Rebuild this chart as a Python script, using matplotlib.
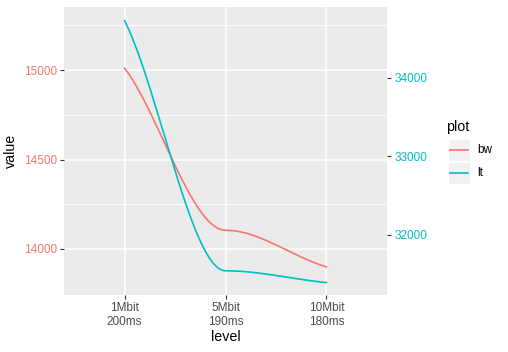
import numpy as np
import matplotlib
matplotlib.use('Agg')
from matplotlib import pyplot as plt
from matplotlib.patches import Rectangle
from matplotlib.lines import Line2D

# data
levels = ['1Mbit\n200ms', '5Mbit\n190ms', '10Mbit\n180ms']
bw = [15010, 14105, 13900]
lt = [34725, 31545, 31395]
series_names = ['bw', 'lt']
red = '#F8766D'
teal = '#00BFC4'

plt.rcParams['font.family'] = ['Liberation Sans', 'DejaVu Sans']


def smooth(y, k_end=0.8, k_mid=0.0, n=80):
    # cubic hermite through the points, flat-ish at the middle point
    y = np.array(y, dtype=float)
    x = np.arange(1, len(y) + 1, dtype=float)
    s = np.diff(y)
    m = np.zeros(len(y))
    m[0] = k_end * s[0]
    m[-1] = k_end * s[-1]
    m[1:-1] = k_mid * (s[:-1] + s[1:]) / 2
    xs, ys = [], []
    for i in range(len(y) - 1):
        t = np.linspace(0, 1, n)
        h00 = 2*t**3 - 3*t**2 + 1
        h10 = t**3 - 2*t**2 + t
        h01 = -2*t**3 + 3*t**2
        h11 = t**3 - t**2
        xs.append(x[i] + t)
        ys.append(h00*y[i] + h10*m[i] + h01*y[i+1] + h11*m[i+1])
    return np.concatenate(xs), np.concatenate(ys)


fig = plt.figure(figsize=(5.08, 3.52), dpi=100)
ax = fig.add_axes([64/508, 1 - 295/352, (387-64)/508, (295-7)/352])
ax2 = ax.twinx()

bg = '#EBEBEB'
ax.set_facecolor(bg)
for a in (ax, ax2):
    for sp in a.spines.values():
        sp.set_visible(False)

ax.set_xlim(0.4, 3.6)
ax.set_ylim(13743, 15352)
ax2.set_ylim(31237, 34899)

ax.set_xticks([1, 2, 3])
ax.set_xticklabels(levels)
ax.set_yticks([14000, 14500, 15000])
ax.set_yticks([14250, 14750, 15250], minor=True)
ax2.set_yticks([32000, 33000, 34000])

ax.grid(True, which='major', color='white', lw=1.1)
ax.grid(True, which='minor', axis='y', color='white', lw=0.55)
ax.set_axisbelow(True)

tick_kw = dict(length=2.9, width=0.8, color='#333333', labelsize=8.5, pad=2.2)
ax.tick_params(axis='x', labelcolor='#4D4D4D', **tick_kw)
ax.tick_params(axis='y', labelcolor=red, **tick_kw)
ax.tick_params(axis='y', which='minor', length=0)
ax2.tick_params(axis='y', labelcolor=teal, **tick_kw)

xs, ys = smooth(bw)
ax.plot(xs, ys, color=red, lw=1.2)
xs, ys = smooth(lt)
ax2.plot(xs, ys, color=teal, lw=1.2)

ax.set_xlabel('level', fontsize=10.3, labelpad=1.5)
ax.set_ylabel('value', fontsize=10.3, labelpad=4)

# legend drawn by hand to get the grey key boxes
W, H = 508, 352
fig.text(446/W, 1 - 127/H, 'plot', fontsize=10.3, va='center', ha='left')
for i, (name, col) in enumerate(zip(series_names, [red, teal])):
    top = 139 + i * 23
    fig.add_artist(Rectangle((448/W, 1 - (top + 22)/H), 22/W, 22/H,
                             transform=fig.transFigure, facecolor='#F2F2F2',
                             edgecolor='white', lw=0.8))
    fig.add_artist(Line2D([450/W, 468/W], [1 - (top + 11)/H] * 2,
                          transform=fig.transFigure, color=col, lw=1.2))
    fig.text(477/W, 1 - (top + 11)/H, name, fontsize=8.5, va='center', ha='left')

fig.savefig('out.png', dpi=100)
